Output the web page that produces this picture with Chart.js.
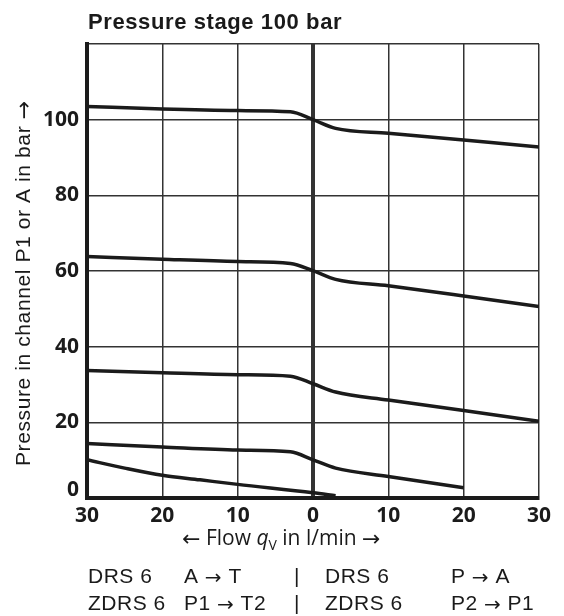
<!DOCTYPE html>
<html><head><meta charset="utf-8">
<script src="https://cdn.jsdelivr.net/npm/chart.js@4.4.1/dist/chart.umd.min.js"></script>
<style>html,body{margin:0;padding:0;background:#fff;}#wrap{position:relative;width:564px;height:616px;}</style>
</head><body><div id="wrap"><canvas id="c" width="564" height="616"></canvas></div>
<script>
// ---- data ----
const xTicks = [-30, -20, -10, 0, 10, 20, 30];
const yTicks = [0, 20, 40, 60, 80, 100, 120];
const flowFull = [-30, -20, -10, -3, 0, 3, 10, 20, 30];
const p100 = [103.5, 102.8, 102.4, 102.1, 100.0, 97.7, 96.4, 94.6, 92.8];
const p60  = [63.8, 63.1, 62.5, 62.0, 60.1, 57.8, 56.1, 53.4, 50.6];
const p30  = [33.7, 33.1, 32.6, 32.2, 30.2, 28.0, 25.9, 23.1, 20.3];
const flow10 = [-30, -20, -10, -3, 0, 3, 10, 20];
const p10  = [14.4, 13.5, 12.7, 12.2, 10.1, 7.9, 5.7, 2.7];
const flow0 = [-30, -25, -20, -15, -10, 0, 3];
const p0   = [10.1, 7.9, 6.0, 4.8, 3.6, 1.4, 0.6];
const titleText = 'Pressure stage 100 bar';
const yTitleParts = ['Pressure in channel P1 or A in bar ', '\u2192'];
const xTitleParts = ['\u2190', ' Flow ', 'q', 'V', ' in l/min ', '\u2192'];
const legendRows = [
  ['DRS 6', 'A \u2192 T', '|', 'DRS 6', 'P \u2192 A'],
  ['ZDRS 6', 'P1 \u2192 T2', '|', 'ZDRS 6', 'P2 \u2192 P1']
];

const pts = (xs, ys) => xs.map((x, i) => ({x: x, y: ys[i]}));
const series = [pts(flowFull, p100), pts(flowFull, p60), pts(flowFull, p30), pts(flow10, p10), pts(flow0, p0)];

const ARROW = '{S}px "DejaVu Sans", sans-serif';
function drawMixed(ctx, str, x, y, font, arrowSize) {
  // draws a string where arrows use a longer arrow glyph font
  const bits = str.split(/([\u2190\u2192])/);
  bits.forEach(b => {
    if (!b) return;
    const isArrow = /[\u2190\u2192]/.test(b);
    ctx.font = isArrow ? ARROW.replace('{S}', arrowSize) : font;
    ctx.fillText(b, x, y + (isArrow ? 1 : 0));
    x += ctx.measureText(b).width;
  });
  return x;
}

const textPlugin = {
  id: 'texts',
  afterDraw(chart) {
    const ctx = chart.ctx;
    ctx.save();
    ctx.fillStyle = '#1a1a1a';
    ctx.textAlign = 'left'; ctx.textBaseline = 'alphabetic';
    // title
    ctx.letterSpacing = '0.6px';
    ctx.font = 'bold 22px "Liberation Sans", Arial, sans-serif';
    ctx.fillText(titleText, 88, 29);
    // y title
    ctx.save();
    ctx.translate(30, 466);
    ctx.rotate(-Math.PI / 2);
    ctx.letterSpacing = '0.6px';
    drawMixed(ctx, yTitleParts.join(''), 0, 0, '21px "Liberation Sans", Arial, sans-serif', 22);
    ctx.restore();
    // x title
    ctx.letterSpacing = '0px';
    let x = 182; const yb = 545;
    const nf = '21px "Open Sans", sans-serif';
    x = drawMixed(ctx, xTitleParts[0], x, yb, nf, 22);
    x = drawMixed(ctx, xTitleParts[1], x, yb, nf, 22);
    ctx.font = 'italic 21px "Open Sans", sans-serif';
    ctx.fillText(xTitleParts[2], x, yb); x += ctx.measureText(xTitleParts[2]).width;
    ctx.font = '14px "Open Sans", sans-serif';
    ctx.fillText(xTitleParts[3], x, yb + 5); x += ctx.measureText(xTitleParts[3]).width;
    x = drawMixed(ctx, xTitleParts[4], x, yb, nf, 22);
    drawMixed(ctx, xTitleParts[5], x, yb, nf, 22);
    // legend rows
    ctx.letterSpacing = '0.5px';
    const cols = [88, 184, 294, 325, 451];
    legendRows.forEach((row, r) => {
      row.forEach((t, i) => drawMixed(ctx, t, cols[i], 583 + r * 27, '21px "Liberation Sans", Arial, sans-serif', 20));
    });
    ctx.restore();
  }
};

new Chart(document.getElementById('c'), {
  type: 'line',
  data: {
    datasets: series.map(d => ({
      data: d, borderColor: '#1b1b1b', borderWidth: 3.5, pointRadius: 0,
      fill: false, cubicInterpolationMode: 'monotone'
    }))
  },
  options: {
    responsive: false, animation: false,
    layout: {padding: {left: 0, right: 25, top: 44, bottom: 0}},
    plugins: {legend: {display: false}, tooltip: {enabled: false}, title: {display: false}},
    scales: {
      x: {
        type: 'linear', min: -30, max: 30,
        afterBuildTicks: s => { s.ticks = xTicks.map(v => ({value: v})); },
        afterFit: s => { s.height = 118; },
        grid: {color: '#333', lineWidth: c => (c.tick && c.tick.value === 0) ? 4 : 1.5, drawTicks: false},
        border: {display: true, width: 4, color: '#1b1b1b'},
        ticks: {
          callback: v => String(Math.abs(v)), autoSkip: false, maxRotation: 0, padding: 5,
          color: '#1b1b1b', font: {family: '"Open Sans", sans-serif', weight: 'bold', size: 21}
        }
      },
      y: {
        min: 0, max: 120,
        afterBuildTicks: s => { s.ticks = yTicks.map(v => ({value: v})); },
        afterFit: s => { s.width = 87; },
        grid: {color: '#333', lineWidth: 1.5, drawTicks: false},
        border: {display: true, width: 4, color: '#1b1b1b'},
        ticks: {
          callback: v => v === 120 ? '' : (v === 0 ? ['0', ''] : String(v)), padding: 8,
          color: '#1b1b1b', font: {family: '"Open Sans", sans-serif', weight: 'bold', size: 21, lineHeight: 0.8}
        }
      }
    }
  },
  plugins: [textPlugin]
});
</script></body></html>
